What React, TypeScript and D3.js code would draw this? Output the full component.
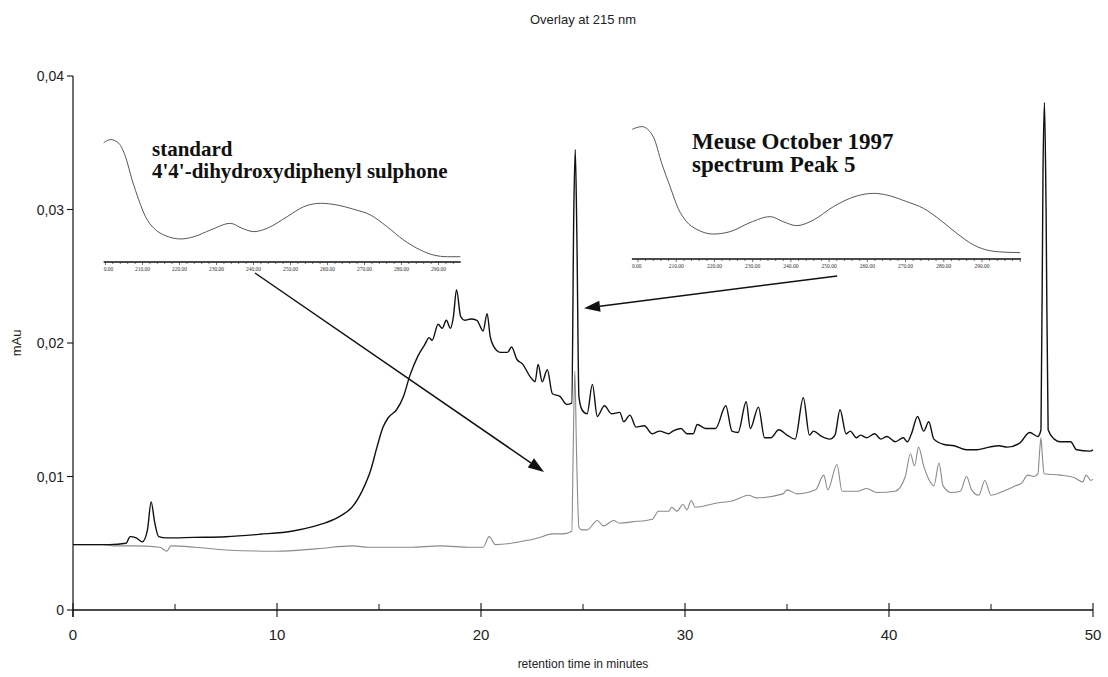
import React from "react";
import * as d3 from "d3";

// ---------- data ----------
const title = "Overlay at 215 nm";
const xLabel = "retention time in minutes";
const yLabel = "mAu";
const xTicks = [0, 10, 20, 30, 40, 50];
const xMinorTicks = [5, 15, 25, 35, 45];
const yTicks = [0, 0.01, 0.02, 0.03, 0.04];
const yTickLabels = ["0", "0,01", "0,02", "0,03", "0,04"];

// sample chromatogram (black) [min, mAu]
const sampleTrace: [number, number][] = [
  [0, 0.0049], [1.8, 0.0049], [2.6, 0.005], [2.8, 0.0055], [3.1, 0.0054], [3.4, 0.0051],
  [3.65, 0.006], [3.83, 0.0081], [4.0, 0.0066], [4.2, 0.0055], [4.6, 0.0054], [5.9, 0.00544],
  [7.5, 0.00549], [9.15, 0.00567], [10.78, 0.00592], [11.76, 0.00625], [12.4, 0.00654],
  [13.2, 0.00712], [13.7, 0.00774], [14.2, 0.009], [14.6, 0.0105], [14.9, 0.0122],
  [15.2, 0.0137], [15.45, 0.0144], [15.86, 0.015], [16.2, 0.016], [16.5, 0.0175],
  [16.9, 0.019], [17.25, 0.0199], [17.46, 0.0204], [17.6, 0.0202], [17.9, 0.0214],
  [18.1, 0.0211], [18.3, 0.0217], [18.5, 0.0211], [18.65, 0.022], [18.8, 0.024],
  [19.0, 0.022], [19.2, 0.0217], [19.5, 0.0218], [19.8, 0.0217], [20.1, 0.0209],
  [20.3, 0.0222], [20.45, 0.0205], [20.6, 0.0198], [20.95, 0.0193], [21.3, 0.0193],
  [21.5, 0.0197], [21.75, 0.0188], [22.05, 0.0184], [22.4, 0.0175], [22.65, 0.0171],
  [22.8, 0.0184], [23.0, 0.0171], [23.25, 0.018], [23.5, 0.0162], [23.87, 0.016],
  [24.2, 0.0154], [24.45, 0.0155], [24.55, 0.03], [24.62, 0.0345], [24.7, 0.028],
  [24.8, 0.016], [24.95, 0.015], [25.2, 0.0147], [25.46, 0.0169], [25.7, 0.0145],
  [26.05, 0.0153], [26.4, 0.0147], [26.8, 0.0148], [27.0, 0.0141], [27.3, 0.0146],
  [27.6, 0.0137], [28.0, 0.0138], [28.4, 0.0132], [28.75, 0.0134], [29.2, 0.0132],
  [29.4, 0.0134], [29.8, 0.0136], [30.1, 0.0132], [30.4, 0.0132], [30.6, 0.0139],
  [31.0, 0.0136], [31.5, 0.0136], [32.0, 0.0153], [32.3, 0.0134], [32.6, 0.0133],
  [33.0, 0.0156], [33.2, 0.0136], [33.6, 0.0152], [33.9, 0.0129], [34.2, 0.0129],
  [34.6, 0.0135], [35.0, 0.0131], [35.4, 0.0128], [35.8, 0.0159], [36.1, 0.0131],
  [36.3, 0.0134], [36.7, 0.013], [37.1, 0.0128], [37.35, 0.0131], [37.6, 0.015],
  [37.9, 0.0132], [38.1, 0.0134], [38.4, 0.0129], [38.6, 0.0131], [38.9, 0.0129],
  [39.3, 0.0132], [39.6, 0.0128], [39.9, 0.013], [40.3, 0.0126], [40.7, 0.0129],
  [40.9, 0.0126], [41.1, 0.0132], [41.4, 0.0145], [41.7, 0.0134], [41.95, 0.0141],
  [42.2, 0.0128], [42.7, 0.0124], [43.2, 0.0123], [43.8, 0.012], [44.3, 0.012],
  [44.9, 0.0122], [45.4, 0.0123], [45.8, 0.0122], [46.4, 0.0125], [46.9, 0.0133],
  [47.3, 0.013], [47.45, 0.0135], [47.55, 0.033], [47.62, 0.038], [47.7, 0.03],
  [47.8, 0.0135], [48.1, 0.0128], [48.4, 0.0126], [48.9, 0.0126], [49.2, 0.012],
  [49.85, 0.0119], [50, 0.012],
];

// standard chromatogram (grey) [min, mAu]
const standardTrace: [number, number][] = [
  [0, 0.0049], [1.5, 0.0049], [2.0, 0.0048], [3.0, 0.0048], [4.26, 0.0047],
  [4.6, 0.0044], [4.8, 0.0048], [6.0, 0.0047], [7.5, 0.0045], [10.0, 0.0044],
  [12.0, 0.0046], [13.7, 0.0048], [14.5, 0.0047], [16.5, 0.0047], [18.0, 0.0048],
  [19.5, 0.0047], [20.1, 0.0047], [20.4, 0.0055], [20.7, 0.0049], [21.5, 0.005],
  [22.2, 0.0052], [22.8, 0.0054], [23.5, 0.0057], [24.0, 0.0057], [24.45, 0.0059],
  [24.52, 0.012], [24.6, 0.0179], [24.68, 0.012], [24.8, 0.0062], [24.95, 0.006],
  [25.2, 0.006], [25.7, 0.0067], [26.0, 0.0063], [26.5, 0.0067], [26.8, 0.0065],
  [27.4, 0.0066], [28.4, 0.0068], [28.7, 0.0074], [29.2, 0.0074], [29.35, 0.0077],
  [29.6, 0.0074], [29.9, 0.0079], [30.1, 0.0075], [30.3, 0.0082], [30.5, 0.0077],
  [31.5, 0.008], [32.4, 0.0082], [33.1, 0.0086], [33.5, 0.0084], [34.8, 0.0087],
  [35.0, 0.009], [35.5, 0.0087], [36.4, 0.009], [36.8, 0.0101], [37.0, 0.009],
  [37.45, 0.0109], [37.7, 0.0089], [38.5, 0.0089], [38.9, 0.0091], [39.4, 0.0088],
  [40.3, 0.0089], [40.8, 0.01], [41.05, 0.0117], [41.25, 0.0108], [41.45, 0.0122],
  [41.7, 0.0108], [41.95, 0.0098], [42.2, 0.0093], [42.45, 0.011], [42.65, 0.0093],
  [43.05, 0.0088], [43.5, 0.0089], [43.8, 0.01], [44.05, 0.009], [44.4, 0.0086],
  [44.7, 0.0097], [45.0, 0.0086], [45.6, 0.0089], [46.2, 0.0093], [46.5, 0.0095],
  [46.8, 0.0101], [47.1, 0.01], [47.3, 0.0102], [47.38, 0.0118], [47.45, 0.0129],
  [47.52, 0.0115], [47.6, 0.0102], [48.4, 0.0101], [49.1, 0.0099], [49.5, 0.0096],
  [49.66, 0.0101], [49.9, 0.0097], [50, 0.0098],
];

// inset UV spectra [nm, relative absorbance]
const standardSpectrum: [number, number][] = [
  [199.5, 0.994], [201.4, 1.02], [203.6, 0.989], [205.4, 0.878], [207.2, 0.683],
  [209.0, 0.517], [210.8, 0.378], [213.1, 0.281], [215.8, 0.225], [220.3, 0.192],
  [223.9, 0.211], [228.4, 0.267], [233.8, 0.322], [236.9, 0.281], [240.1, 0.253],
  [243.7, 0.281], [249.1, 0.378], [253.6, 0.461], [258.1, 0.489], [262.6, 0.475],
  [267.1, 0.439], [271.6, 0.392], [276.1, 0.294], [280.6, 0.183], [285.1, 0.1],
  [288.7, 0.058], [292.4, 0.044], [295.9, 0.044],
];
const sampleSpectrum: [number, number][] = [
  [198.5, 1.081], [201.0, 1.103], [204.0, 1.019], [206.2, 0.797], [208.4, 0.603],
  [210.5, 0.422], [212.7, 0.311], [215.4, 0.247], [219.7, 0.208], [224.1, 0.228],
  [229.3, 0.303], [234.6, 0.353], [238.0, 0.311], [241.5, 0.278], [245.9, 0.325],
  [251.1, 0.436], [257.2, 0.525], [261.6, 0.547], [265.1, 0.533], [270.3, 0.478],
  [274.7, 0.422], [279.1, 0.325], [283.4, 0.214], [287.8, 0.117], [292.1, 0.069],
  [296.5, 0.056], [300.0, 0.053],
];
const spectrumTicks = [200, 210, 220, 230, 240, 250, 260, 270, 280, 290];
const spectrumTickLabels = ["0.00", "210.00", "220.00", "230.00", "240.00", "250.00", "260.00", "270.00", "280.00", "290.00"];
const standardLabel = ["standard", "4'4'-dihydroxydiphenyl sulphone"];
const sampleLabel = ["Meuse October 1997", "spectrum Peak 5"];

// ---------- layout ----------
const W = 1108;
const H = 677;
const x = d3.scaleLinear().domain([0, 50]).range([73, 1093]);
const y = d3.scaleLinear().domain([0, 0.04]).range([610, 76]);

const ins1 = {
  x: d3.scaleLinear().domain([200, 290]).range([105.5, 438.5]),
  y: d3.scaleLinear().domain([0, 1]).range([262, 142]),
  dom: [199.5, 296],
};
const ins2 = {
  x: d3.scaleLinear().domain([200, 290]).range([638, 982]),
  y: d3.scaleLinear().domain([0, 1]).range([259, 139]),
  dom: [198.4, 300.2],
};

const SANS = "'Liberation Sans', Arial, sans-serif";
const SERIF = "'Liberation Serif', 'Times New Roman', serif";

function Inset({ ins, data, label, textX, base1, base2, fs }: any) {
  const line = d3.line<[number, number]>().x(d => ins.x(d[0])).y(d => ins.y(d[1])).curve(d3.curveMonotoneX);
  const ay = ins.y(0);
  const x0 = ins.x(ins.dom[0]);
  const x1 = ins.x(ins.dom[1]);
  const minor = d3.range(Math.ceil(ins.dom[0] / 2) * 2, ins.dom[1], 2);
  return (
    <g>
      <path d={line(data) || ""} fill="none" stroke="#444" strokeWidth={0.9} />
      <line x1={x0} x2={x1} y1={ay} y2={ay} stroke="#111" strokeWidth={1.3} />
      {minor.map(t => (
        <line key={t} x1={ins.x(t)} x2={ins.x(t)} y1={ay} y2={ay + (t % 10 === 0 ? 3 : 2)} stroke="#333" strokeWidth={0.7} />
      ))}
      {spectrumTicks.map((t, i) => (
        <text key={t} x={i === 0 ? x0 : ins.x(t)} y={ay + 9} fontSize={5.5} fontFamily={SERIF}
          textAnchor={i === 0 ? "start" : "middle"} fill="#333">{spectrumTickLabels[i]}</text>
      ))}
      <text x={textX} y={base1} fontFamily={SERIF} fontWeight="bold" fontSize={fs} fill="#111">{label[0]}</text>
      <text x={textX} y={base2} fontFamily={SERIF} fontWeight="bold" fontSize={fs} fill="#111">{label[1]}</text>
    </g>
  );
}

function Arrow({ x1, y1, x2, y2 }: { x1: number; y1: number; x2: number; y2: number }) {
  const ang = Math.atan2(y2 - y1, x2 - x1);
  const L = 16, hw = 5.5;
  const bx = x2 - L * Math.cos(ang), by = y2 - L * Math.sin(ang);
  const px = -Math.sin(ang) * hw, py = Math.cos(ang) * hw;
  return (
    <g>
      <line x1={x1} y1={y1} x2={bx} y2={by} stroke="#111" strokeWidth={1.5} />
      <polygon points={`${x2},${y2} ${bx + px},${by + py} ${bx - px},${by - py}`} fill="#111" />
    </g>
  );
}

export default function App() {
  const line = d3.line<[number, number]>().x(d => x(d[0])).y(d => y(d[1])).curve(d3.curveMonotoneX);
  const y0 = y(0);
  return (
    <svg width={W} height={H} style={{ position: "absolute", left: 0, top: 0, background: "#fff" }}>
      <rect width={W} height={H} fill="#fff" />
      <text x={583} y={24} textAnchor="middle" fontFamily={SANS} fontSize={13} fill="#222">{title}</text>

      {/* axes */}
      <line x1={x(0)} x2={x(0)} y1={y(0.04)} y2={y0 + 7} stroke="#111" strokeWidth={1.2} />
      <line x1={x(0)} x2={x(50)} y1={y0} y2={y0} stroke="#111" strokeWidth={1.3} />
      {yTicks.map((t, i) => (
        <g key={t}>
          <line x1={x(0) - 6} x2={x(0)} y1={y(t)} y2={y(t)} stroke="#111" strokeWidth={1.1} />
          <text x={x(0) - 9} y={y(t) + 5} textAnchor="end" fontFamily={SANS} fontSize={14} fill="#222">{yTickLabels[i]}</text>
        </g>
      ))}
      {xTicks.map(t => (
        <g key={t}>
          <line x1={x(t)} x2={x(t)} y1={y0 - 7} y2={y0 + 7} stroke="#111" strokeWidth={1.1} />
          <text x={x(t)} y={y0 + 30} textAnchor="middle" fontFamily={SANS} fontSize={15} fill="#222">{t}</text>
        </g>
      ))}
      {xMinorTicks.map(t => (
        <line key={t} x1={x(t)} x2={x(t)} y1={y0 - 6} y2={y0} stroke="#111" strokeWidth={1} />
      ))}
      <text x={583} y={668} textAnchor="middle" fontFamily={SANS} fontSize={12} fill="#222">{xLabel}</text>
      <text transform={`translate(21,343) rotate(-90)`} textAnchor="middle" fontFamily={SANS} fontSize={13} fill="#222">{yLabel}</text>

      {/* traces */}
      <path d={line(standardTrace) || ""} fill="none" stroke="#8a8a8a" strokeWidth={1.1} />
      <path d={line(sampleTrace) || ""} fill="none" stroke="#111" strokeWidth={1.4} />

      {/* insets */}
      <Inset ins={ins1} data={standardSpectrum} label={standardLabel} textX={152} base1={156} base2={178} fs={21} />
      <Inset ins={ins2} data={sampleSpectrum} label={sampleLabel} textX={692} base1={148.5} base2={172} fs={23} />

      {/* arrows */}
      <Arrow x1={ins1.x(240.4)} y1={ins1.y(0) + 11} x2={x(23.09)} y2={y(0.01034)} />
      <Arrow x1={ins2.x(252.1)} y1={ins2.y(0) + 17} x2={x(25.05)} y2={y(0.0226)} />
    </svg>
  );
}
